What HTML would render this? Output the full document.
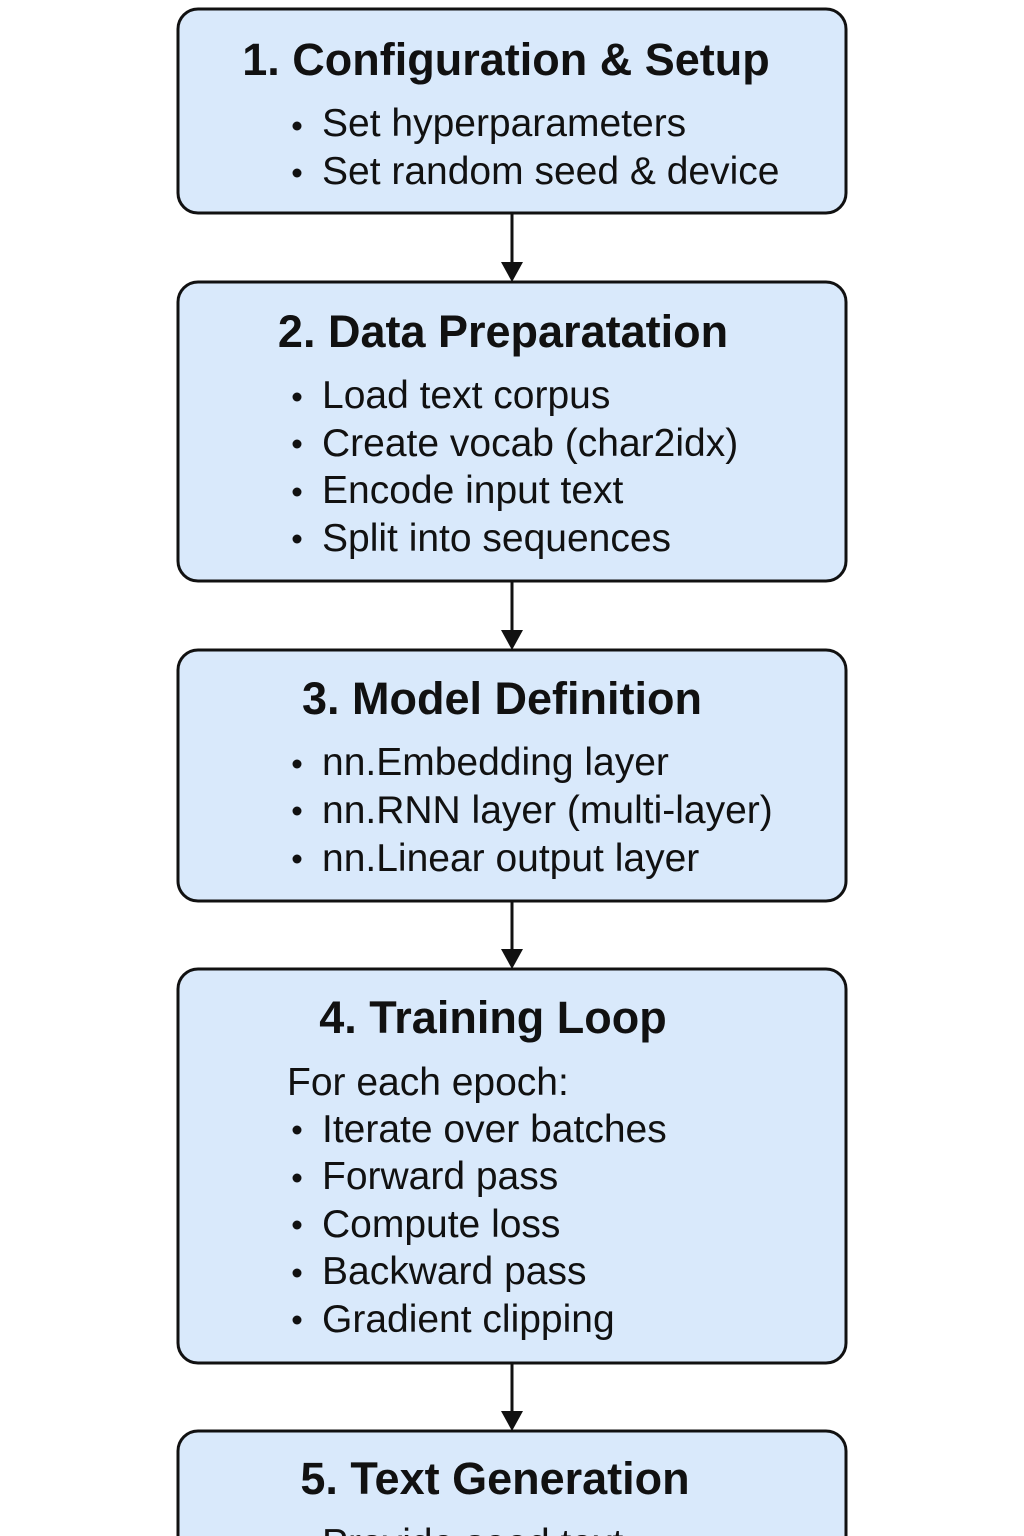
<!DOCTYPE html>
<html><head><meta charset="utf-8"><style>
html,body{margin:0;padding:0;background:#fff;}
svg{display:block;}
text{font-family:"Liberation Sans",Arial,sans-serif;fill:#111;}
.t{font-size:45px;font-weight:bold;text-anchor:middle;}
.b{font-size:39px;}
</style></head><body>
<svg width="1024" height="1536" viewBox="0 0 1024 1536">
<g fill="#d9e9fb" stroke="#111" stroke-width="3">
<rect x="178" y="9" width="668" height="204" rx="20"/>
<rect x="178" y="282" width="668" height="299" rx="20"/>
<rect x="178" y="650" width="668" height="251" rx="20"/>
<rect x="178" y="969" width="668" height="394" rx="20"/>
<rect x="178" y="1431" width="668" height="140" rx="20"/>
</g>
<g stroke="#111" stroke-width="3">
<line x1="512" y1="213" x2="512" y2="270"/>
<line x1="512" y1="581" x2="512" y2="638"/>
<line x1="512" y1="901" x2="512" y2="957"/>
<line x1="512" y1="1363" x2="512" y2="1419"/>
</g>
<g fill="#111">
<polygon points="501,262 523,262 512,282"/>
<polygon points="501,630 523,630 512,650"/>
<polygon points="501,949 523,949 512,969"/>
<polygon points="501,1411 523,1411 512,1431"/>
</g>
<g fill="#111">
<circle cx="297" cy="126" r="4.5"/><circle cx="297" cy="173" r="4.5"/>
<circle cx="297" cy="397" r="4.5"/><circle cx="297" cy="444" r="4.5"/><circle cx="297" cy="492" r="4.5"/><circle cx="297" cy="539" r="4.5"/>
<circle cx="297" cy="764" r="4.5"/><circle cx="297" cy="811" r="4.5"/><circle cx="297" cy="859" r="4.5"/>
<circle cx="297" cy="1130" r="4.5"/><circle cx="297" cy="1178" r="4.5"/><circle cx="297" cy="1225" r="4.5"/><circle cx="297" cy="1273" r="4.5"/><circle cx="297" cy="1320" r="4.5"/>
<circle cx="297" cy="1544" r="4.5"/>
</g>
<text class="t" x="506" y="75">1. Configuration &amp; Setup</text>
<text class="b" x="322" y="136">Set hyperparameters</text>
<text class="b" x="322" y="184">Set random seed &amp; device</text>
<text class="t" x="503" y="347">2. Data Preparatation</text>
<text class="b" x="322" y="408">Load text corpus</text>
<text class="b" x="322" y="456">Create vocab (char2idx)</text>
<text class="b" x="322" y="503">Encode input text</text>
<text class="b" x="322" y="551">Split into sequences</text>
<text class="t" x="502" y="714">3. Model Definition</text>
<text class="b" x="322" y="775">nn.Embedding layer</text>
<text class="b" x="322" y="823">nn.RNN layer (multi-layer)</text>
<text class="b" x="322" y="871">nn.Linear output layer</text>
<text class="t" x="493" y="1033">4. Training Loop</text>
<text class="b" x="287" y="1095">For each epoch:</text>
<text class="b" x="322" y="1142">Iterate over batches</text>
<text class="b" x="322" y="1189">Forward pass</text>
<text class="b" x="322" y="1237">Compute loss</text>
<text class="b" x="322" y="1284">Backward pass</text>
<text class="b" x="322" y="1332">Gradient clipping</text>
<text class="t" x="495" y="1494">5. Text Generation</text>
<text class="b" x="322" y="1556">Provide seed text</text>
</svg>
</body></html>
